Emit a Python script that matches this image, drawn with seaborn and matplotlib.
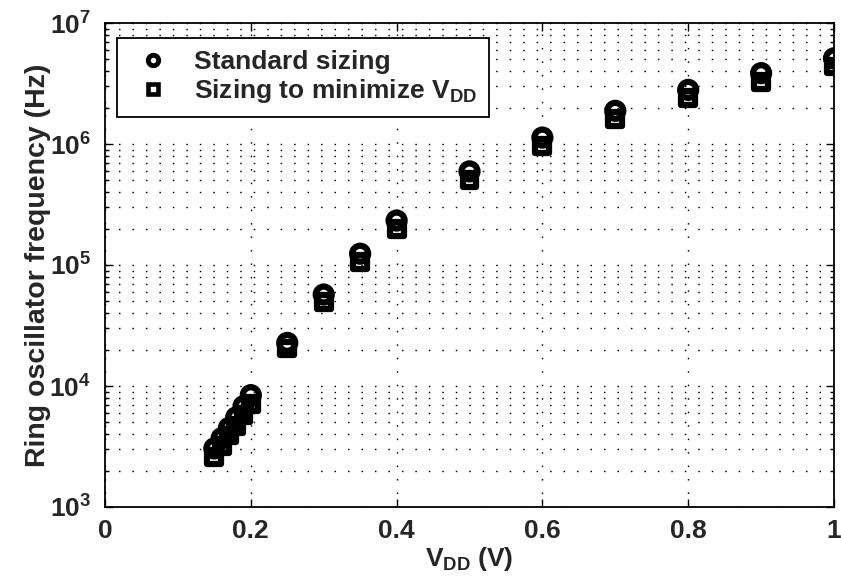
import numpy as np
import pandas as pd
import matplotlib
matplotlib.use("Agg")
import matplotlib.pyplot as plt
import seaborn as sns
from matplotlib.lines import Line2D
from matplotlib.ticker import (FixedLocator, FixedFormatter, LogLocator,
                               LogFormatterSciNotation, NullFormatter)

# ---------------- data ----------------
vdd = [0.15, 0.16, 0.17, 0.18, 0.19, 0.20, 0.25, 0.30, 0.35, 0.40,
       0.50, 0.60, 0.70, 0.80, 0.90, 1.00]
freq_standard = [3.05e3, 3.7e3, 4.5e3, 5.5e3, 6.8e3, 8.4e3, 2.27e4, 5.7e4,
                 1.24e5, 2.33e5, 5.94e5, 1.13e6, 1.88e6, 2.8e6, 3.85e6, 5.1e6]
freq_min_vdd = [2.6e3, 3.2e3, 3.9e3, 4.7e3, 5.8e3, 7.1e3, 2.04e4, 4.93e4,
                1.05e5, 1.99e5, 5.07e5, 9.7e5, 1.61e6, 2.39e6, 3.28e6, 4.37e6]
series_labels = ["Standard sizing", "Sizing to minimize V$_{DD}$"]
x_ticks = [0, 0.2, 0.4, 0.6, 0.8, 1.0]
x_tick_labels = ["0", "0.2", "0.4", "0.6", "0.8", "1"]
y_decades = [1e3, 1e4, 1e5, 1e6, 1e7]
x_label = "V$_{DD}$ (V)"
y_label = "Ring oscillator frequency (Hz)"

# ---------------- style ----------------
sns.set_style("ticks")
plt.rcParams.update({
    "font.family": ["Liberation Sans", "DejaVu Sans"],
    "font.weight": "bold",
    "axes.labelweight": "bold",
    "mathtext.fontset": "custom",
    "mathtext.rm": "Liberation Sans:bold",
    "mathtext.it": "Liberation Sans:bold",
    "mathtext.bf": "Liberation Sans:bold",
    "mathtext.sf": "Liberation Sans:bold",
    "mathtext.default": "rm",
})

fig = plt.figure(figsize=(8.41, 5.83), dpi=100)
ax = fig.add_axes([105 / 841, 76 / 583, 729 / 841, 484 / 583])

df = pd.DataFrame({"vdd": vdd, "standard": freq_standard, "minvdd": freq_min_vdd})

sns.scatterplot(data=df, x="vdd", y="minvdd", marker="s", s=10.0 ** 2,
                facecolor="none", edgecolor="black", linewidth=4.5,
                ax=ax, zorder=3)
sns.scatterplot(data=df, x="vdd", y="standard", marker="o", s=11.5 ** 2,
                facecolor="none", edgecolor="black", linewidth=4.5,
                ax=ax, zorder=4)

ax.set_yscale("log")
ax.set_xlim(0, 1)
ax.set_ylim(y_decades[0], y_decades[-1])

ax.xaxis.set_major_locator(FixedLocator(x_ticks))
ax.xaxis.set_major_formatter(FixedFormatter(x_tick_labels))
ax.yaxis.set_major_locator(FixedLocator(y_decades))
ax.yaxis.set_major_formatter(LogFormatterSciNotation())
ax.yaxis.set_minor_locator(LogLocator(base=10, subs=np.arange(2, 10)))
ax.yaxis.set_minor_formatter(NullFormatter())

dots = (0, (1.1, 8.6))
ax.grid(True, which="major", axis="both", color="black", linestyle=dots, linewidth=1.0)
ax.grid(True, which="minor", axis="y", color="black", linestyle=dots, linewidth=1.0)
ax.set_axisbelow(True)

ax.tick_params(which="both", direction="in", top=True, right=True,
               width=1.0, color="black", labelsize=19)
ax.tick_params(which="major", length=6)
ax.tick_params(which="minor", length=3)
ax.tick_params(axis="x", pad=9)
ax.tick_params(axis="y", pad=10)
for sp in ax.spines.values():
    sp.set_color("black")
    sp.set_linewidth(1.3)

ax.set_xlabel(x_label, fontsize=19, fontweight="bold", labelpad=1)
ax.set_ylabel(y_label, fontsize=20.5, fontweight="bold")
ax.yaxis.set_label_coords(-0.074, 0.5)

h1 = Line2D([], [], marker="o", ls="none", ms=7.5, mew=3.5, mfc="none", mec="black")
h2 = Line2D([], [], marker="s", ls="none", ms=7.5, mew=3.3, mfc="none", mec="black")
leg = ax.legend([h1, h2], series_labels, loc="upper left",
                bbox_to_anchor=(0.017, 0.969), borderaxespad=0,
                fancybox=False, framealpha=1, edgecolor="black",
                prop={"weight": "bold", "size": 19},
                handlelength=1.8, handletextpad=0.65, labelspacing=0.12,
                borderpad=0.45)
leg.get_frame().set_linewidth(1.3)

fig.savefig("out.png", dpi=100)
